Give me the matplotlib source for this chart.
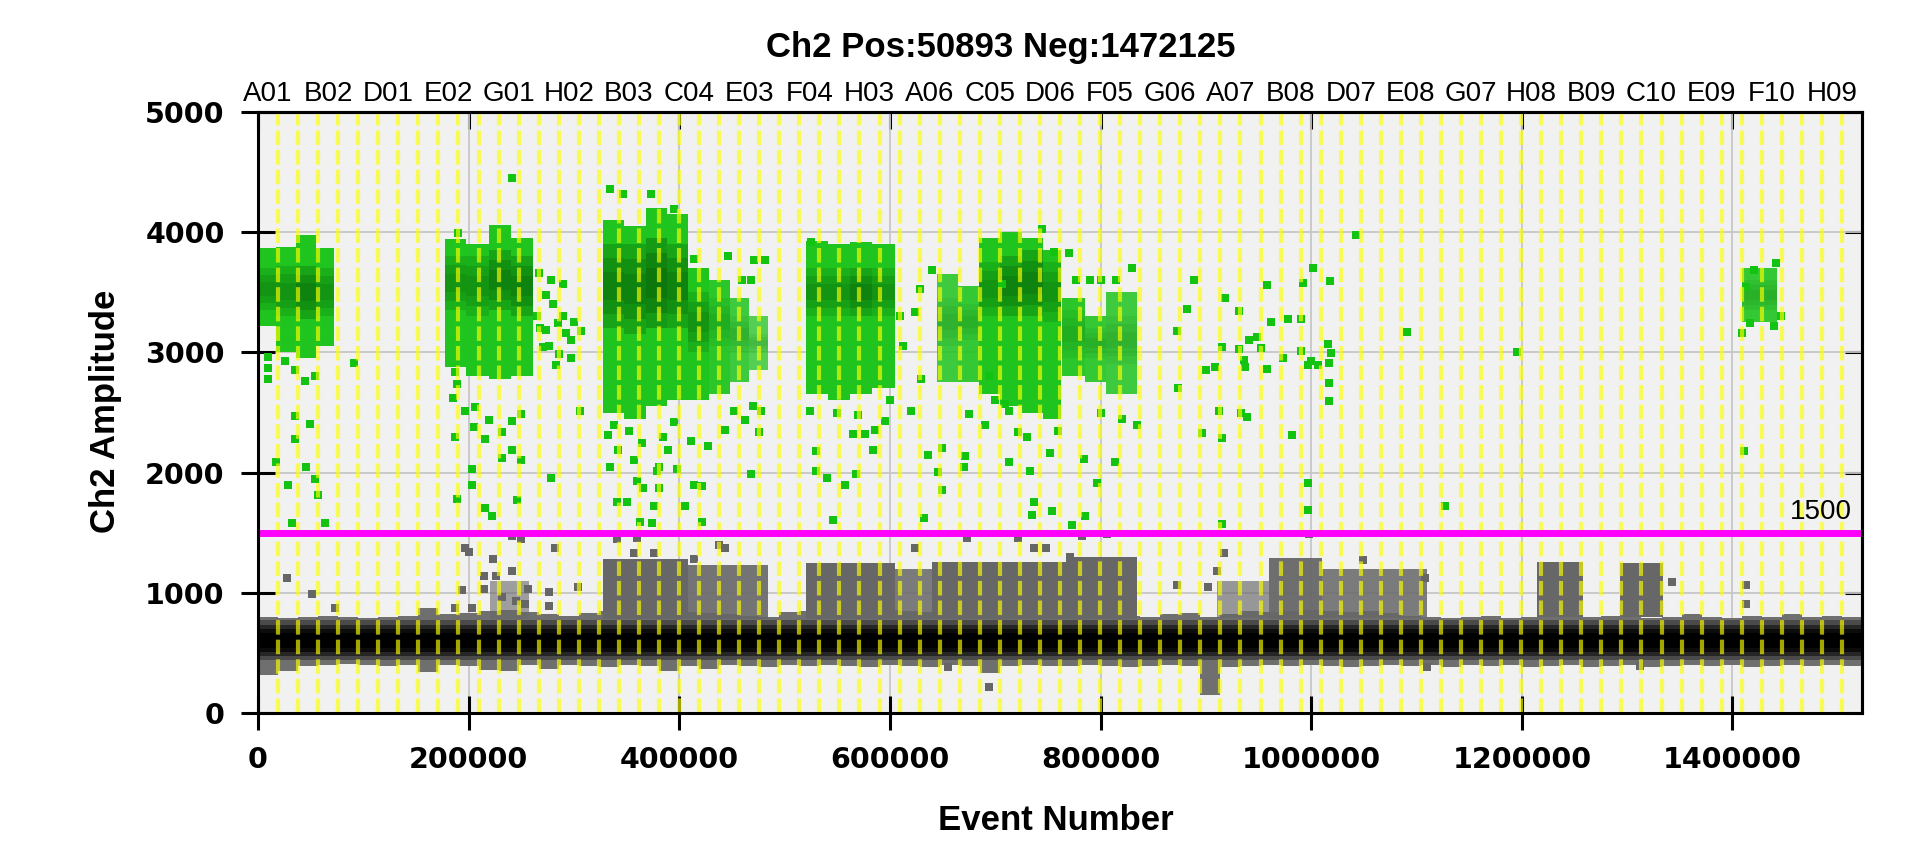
import numpy as np
import matplotlib
matplotlib.use('Agg')
import matplotlib.pyplot as plt
from matplotlib.transforms import blended_transform_factory

# ---- data ----
title = 'Ch2 Pos:50893 Neg:1472125'
total_events = 1523018
n_wells = 80
threshold = 1500

# labels printed on top, every third well (index 0, 3, ... 78)
well_labels = ['A01', 'B02', 'D01', 'E02', 'G01', 'H02', 'B03', 'C04', 'E03',
               'F04', 'H03', 'A06', 'C05', 'D06', 'F05', 'G06', 'A07', 'B08',
               'D07', 'E08', 'G07', 'H08', 'B09', 'C10', 'E09', 'F10', 'H09']

# negative droplet band, per well: outer edge of the grey fringe
neg_top = [800, 790, 800, 810, 800, 790, 800, 805, 870, 820,
           830, 850, 860, 840, 820, 810, 830, 850, 860, 850,
           850, 840, 830, 820, 810, 800, 840, 850, 860, 850,
           850, 860, 850, 840, 850, 860, 850, 840, 850, 860,
           850, 840, 830, 810, 800, 820, 830, 800, 820, 850,
           840, 850, 860, 850, 840, 850, 830, 810, 800, 790,
           800, 810, 790, 800, 830, 800, 800, 810, 800, 790,
           800, 820, 800, 790, 810, 800, 820, 800, 810, 800]
neg_bot = [320, 350, 390, 400, 410, 400, 390, 400, 340, 400,
           390, 360, 350, 400, 370, 400, 390, 380, 400, 390,
           350, 390, 370, 400, 390, 380, 400, 390, 400, 390,
           380, 400, 390, 380, 400, 390, 330, 390, 400, 390,
           390, 400, 390, 380, 390, 400, 390, 150, 380, 390,
           400, 390, 400, 390, 380, 390, 400, 390, 400, 380,
           400, 390, 400, 380, 390, 400, 380, 390, 400, 380,
           390, 400, 390, 400, 380, 390, 400, 390, 400, 390]
neg_core = [(440, 770), (475, 735), (510, 700), (540, 665)]

# grey "rain" blocks above the negative band (event number in thousands)
gray_start_k = [220, 328, 408, 520, 605, 640, 767, 911, 960, 1010, 1214, 1293]
gray_end_k = [257, 408, 484, 605, 640, 767, 835, 960, 1010, 1110, 1258, 1334]
gray_lo = [780, 780, 780, 780, 780, 780, 780, 790, 780, 790, 800, 800]
gray_hi = [1100, 1280, 1230, 1250, 1200, 1260, 1300, 1100, 1290, 1200, 1260, 1250]
gray_density = [0.6, 1, 0.9, 1, 0.85, 1, 1, 0.65, 0.95, 0.85, 1, 1]

# positive (green) clusters
pos_start_k = [0, 17, 36, 55, 178, 198, 219, 240, 328, 348, 368, 388, 408, 428,
               448, 466, 520, 541, 562, 583, 645, 665, 685, 705, 725, 745, 763,
               785, 805, 1409]
pos_end_k = [17, 36, 55, 72, 198, 219, 240, 261, 348, 368, 388, 408, 428, 448,
             466, 484, 541, 562, 583, 605, 665, 685, 705, 725, 745, 762, 785,
             805, 835, 1442]
pos_lo = [3220, 3000, 2950, 3050, 2880, 2800, 2780, 2800, 2500, 2450, 2550, 2600,
          2600, 2650, 2750, 2850, 2650, 2600, 2650, 2700, 2750, 2750, 2650, 2550,
          2500, 2450, 2800, 2750, 2650, 3250]
pos_hi = [3870, 3880, 3980, 3870, 3940, 3900, 4060, 3950, 4100, 4050, 4200, 4150,
          3700, 3600, 3450, 3300, 3930, 3900, 3920, 3900, 3650, 3550, 3950, 4000,
          3950, 3850, 3450, 3300, 3500, 3700]
pos_core_lo = [3350, 3300, 3280, 3300, 3350, 3300, 3350, 3300, 3200, 3150, 3200,
               3200, 3000, 3050, 3000, 3000, 3300, 3300, 3300, 3300, 3050, 3100,
               3300, 3300, 3300, 3250, 2950, 2950, 2900, 3350]
pos_core_hi = [3700, 3720, 3720, 3700, 3800, 3800, 3850, 3800, 3900, 3900, 3950,
               3900, 3500, 3450, 3300, 3150, 3700, 3700, 3700, 3700, 3450, 3400,
               3750, 3800, 3850, 3750, 3350, 3200, 3300, 3600]
pos_shade = [1, 1, 2, 1, 1, 1, 2, 2, 2, 2, 3, 2, 1, 0, 0, 0, 1, 1, 2, 1,
             0, 0, 1, 2, 2, 1, 0, 0, 0, 0]
pos_density = [1, 1, 1, 1, 1, 1, 1, 1, 1, 1, 1, 1, 1, 0.95, 0.85, 0.75,
               1, 1, 1, 1, 0.85, 0.9, 1, 1, 1, 1, 0.95, 0.9, 0.85, 0.9]

# single green droplets (event in thousands, amplitude)
green_pts = [
    (35.2, 2471), (49.6, 2403), (35.2, 2280), (17, 2090), (45.4, 2046), (28.2, 1899),
    (54.4, 1943), (57, 1811), (32.6, 1583), (63.4, 1583), (91.2, 2910), (44.8, 2764),
    (54.4, 2802), (35.2, 2851), (25.6, 2930), (10, 2780), (10, 2870), (10, 2960),
    (187, 2837), (189, 2734), (185.6, 2617), (196.8, 2514), (206, 2544), (219, 2441),
    (204.8, 2383), (216, 2280), (232, 2339), (241.6, 2427), (250, 2485), (187, 2295),
    (203, 2031), (232, 2119), (241.6, 2192), (249.6, 2104), (278.4, 1958), (188.8, 1782),
    (203, 1899), (246.4, 1776), (216, 1709), (222.4, 1636), (241.6, 4448), (190, 3990),
    (267, 3657), (278, 3599), (289.6, 3569), (273.6, 3481), (284.8, 3247), (273.6, 3188),
    (292.8, 3159), (297.6, 3100), (307, 3174), (286, 2983), (297.6, 2954), (270.4, 3042),
    (305.6, 2514), (283, 2895), (265, 3300), (268, 3200), (280, 3400), (290, 3300),
    (300, 3250), (276, 3050),
    (334, 4360), (347, 4316), (373, 4316), (334, 2046), (341, 1753), (350, 1753),
    (360, 1928), (366, 1870), (376, 1723), (379, 2016), (357, 2104), (332.8, 2309),
    (342, 2192), (363, 1592), (374, 1577), (338, 2400), (352, 2350), (365, 2250),
    (385, 2300), (395, 2420),
    (381, 2046), (381, 1870), (389, 2192), (398, 2031), (405, 1723), (414, 1899),
    (422, 1885), (422, 1592), (411, 2265), (427, 2221), (443, 2353), (452, 2514),
    (462, 2441), (470, 2558), (476, 2339), (468, 1987), (478, 2514), (395, 4190),
    (414, 3774), (446, 3803), (471, 3768), (481, 3768), (460, 3599), (468, 3599),
    (524, 2514), (530, 2178), (530, 2016), (540, 1958), (557, 1899), (568, 1987),
    (546, 1606), (565, 2324), (576, 2324), (584, 2192), (595, 2427), (586, 2353),
    (525, 3921), (550, 2500), (570, 2480), (600, 2600), (610, 3300), (612, 3050),
    (624, 3335), (629, 3525), (620, 2514), (630, 2778), (636.5, 2148), (646, 2002),
    (649, 1855), (632, 1621), (640, 3686), (649, 2207), (671, 2134), (670, 2046),
    (675, 2485), (694, 2807), (713, 2090), (733, 2016), (736.5, 1753), (735, 1650),
    (754, 1680), (752, 2163), (722, 2339), (744.5, 4023), (755.6, 3833), (706, 3569),
    (700, 2602), (713, 2514), (709.6, 2573), (690, 2400), (730, 2300), (760, 2350),
    (784, 2110), (814, 2086), (797, 1917), (785, 1635), (773, 1560), (770, 3830),
    (777, 3600), (790, 3600), (800, 3600), (815, 3600), (830, 3700), (800, 2500),
    (820, 2450), (835, 2400),
    (873, 3178), (882.5, 3362), (889, 3600), (900, 2850), (873.7, 2700), (896, 2330),
    (909, 2880), (912, 2510), (915, 2290), (915, 1576), (918, 3450), (915, 3045),
    (931, 3347), (931, 3030), (936, 2940), (937.5, 2880), (933, 2496), (939, 2466),
    (941, 3104), (949, 3128), (952, 3040), (958, 3560), (962, 3255), (958, 2866),
    (973, 2955), (978, 3282), (990.5, 3282), (982, 2317), (992, 3579), (1001.6, 3703),
    (990.5, 3015), (1000, 2926), (997, 2896), (1006, 2896), (1017.5, 3590), (1016, 3070),
    (1019, 2996), (1016.5, 2914), (1016.5, 2745), (1016.5, 2598), (997, 1914),
    (997, 1691), (1043, 3979), (1090.5, 3172), (1127, 1720),
    (1195, 3000), (1411, 2177), (1420.5, 3686), (1441, 3745), (1446, 3306),
    (1439, 3218), (1409.5, 3159), (1417, 3247), (1412.6, 3540)]

# single grey droplets (event in thousands, amplitude)
gray_pts = [
    (27.2, 1123), (51.2, 991), (73.6, 874), (196.8, 1372), (200, 1343), (223, 1284),
    (249.6, 1445), (241.6, 1474), (225.6, 1137), (241.6, 1181), (214.4, 1035),
    (214.4, 1137), (281.6, 1372), (276.8, 1006), (276.8, 888), (304, 1050),
    (340.8, 1445), (360, 1460), (376, 1328), (357, 1328), (193.6, 1020), (187.2, 874),
    (203, 874), (232, 962), (256, 1035), (254, 903), (245, 932),
    (414, 1284), (438, 1401), (443, 1372), (624, 1372), (673, 1460), (722, 1460),
    (736.5, 1372), (748, 1372), (694, 215), (655.6, 381),
    (782.5, 1474), (806, 1489), (771, 1298), (785.7, 1108), (798, 1167), (873, 1064),
    (917.5, 1328), (911, 1181), (901.6, 1050), (1109.6, 381), (1049, 1269),
    (1108, 1123), (998, 1489),
    (1343, 1093), (1412.6, 1064), (1412.6, 903), (1312, 390), (1302, 835)]

x_ticks = [0, 200000, 400000, 600000, 800000, 1000000, 1200000, 1400000]
y_ticks = [0, 1000, 2000, 3000, 4000, 5000]

# ---- figure ----
fig = plt.figure(figsize=(19.25, 8.44), dpi=100)
ax = fig.add_axes([0.134, 0.1552, 0.8333, 0.7121])
ax.set_facecolor('#f1f1f1')
ax.set_xlim(0, total_events)
ax.set_ylim(0, 5000)

well_w = total_events / n_wells
centers = (np.arange(n_wells) + 0.5) * well_w
k = 1000.0

ax.grid(True, color='#c6c6c6', lw=1.3, zorder=0.5)
ax.set_axisbelow(True)

# grey fringe of the negative band
nt = np.array(neg_top)
nb = np.array(neg_bot)
ax.bar(centers, nt - nb, bottom=nb, width=well_w, color='#6f6f6f', lw=0, zorder=1)

# grey rain blocks
for s, e, lo, hi, d in zip(gray_start_k, gray_end_k, gray_lo, gray_hi, gray_density):
    ax.bar(s * k, hi - lo, bottom=lo, width=(e - s) * k, align='edge',
           color='#676767', alpha=d, lw=0, zorder=1.2)

# dark core of the negative band
for (lo, hi), col in zip(neg_core, ['#4a4a4a', '#262626', '#0c0c0c', '#000000']):
    ax.bar(centers, hi - lo, bottom=lo, width=well_w, color=col, lw=0, zorder=1.4)

ax.scatter(np.array([p[0] for p in gray_pts]) * k, [p[1] for p in gray_pts],
           marker='s', s=28, c='#666666', linewidths=0, zorder=1.6)

# green clusters
for i in range(len(pos_start_k)):
    x0 = pos_start_k[i] * k
    w = (pos_end_k[i] - pos_start_k[i]) * k
    d = pos_density[i]
    ax.bar(x0, pos_hi[i] - pos_lo[i], bottom=pos_lo[i], width=w, align='edge',
           color='#1fc41f', alpha=d, lw=0, zorder=2)
    a = 0.1 + 0.12 * pos_shade[i]
    clo, chi = pos_core_lo[i], pos_core_hi[i]
    q = (chi - clo) / 6
    for step in range(3):
        ax.bar(x0, chi - clo - 2 * step * q, bottom=clo + step * q, width=w,
               align='edge', color='#0a6a0a', alpha=a * d, lw=0, zorder=2.1)

ax.scatter(np.array([p[0] for p in green_pts]) * k, [p[1] for p in green_pts],
           marker='s', s=28, c='#12c312', linewidths=0, zorder=2.5)

# well boundaries
edges = np.arange(1, n_wells) * well_w
ax.vlines(edges, 0, 5000, colors='#ffff00', linestyles=(0, (3.5, 1.2)),
          linewidth=3.0, alpha=0.65, zorder=4)

# threshold
ax.axhline(threshold, color='#ff00ff', lw=5, zorder=5)
ax.text(total_events * 0.9935, threshold + 60, str(threshold), ha='right',
        va='bottom', fontsize=20, family='Liberation Sans', zorder=6)

# well names along the top
tr = blended_transform_factory(ax.transData, ax.transAxes)
for j, lab in enumerate(well_labels):
    ax.text(centers[j * 3], 1.008, lab, transform=tr, ha='center', va='bottom',
            fontsize=20, family='Liberation Sans')

# axes, ticks, labels
for sp in ax.spines.values():
    sp.set_color('black')
    sp.set_linewidth(2.2)
    sp.set_zorder(7)

ax.set_xticks(x_ticks)
ax.set_xticklabels([str(v) for v in x_ticks])
ax.set_yticks(y_ticks)
ax.set_yticklabels([str(v) for v in y_ticks])
ax.tick_params(direction='inout', length=24, width=2.2, pad=12, top=False,
               right=False, labelsize=20.5)
for lab in ax.get_xticklabels() + ax.get_yticklabels():
    lab.set_fontweight('bold')

top = ax.secondary_xaxis('top')
top.set_xticks(x_ticks, labels=[''] * len(x_ticks))
top.tick_params(direction='in', length=12, width=2.2)
top.spines['top'].set_linewidth(2.2)
right = ax.secondary_yaxis('right')
right.set_yticks(y_ticks, labels=[''] * len(y_ticks))
right.tick_params(direction='in', length=12, width=2.2)
right.spines['right'].set_linewidth(2.2)

ax.set_xlabel('Event Number', fontsize=25, fontweight='bold', family='Liberation Sans')
ax.set_ylabel('Ch2 Amplitude', fontsize=25, fontweight='bold', family='Liberation Sans')
ax.xaxis.set_label_coords(0.4975, -0.152)
ax.yaxis.set_label_coords(-0.085, 0.5025)

fig.text(0.52, 1 - 47 / 844, title, ha='center', va='center', fontsize=25,
         fontweight='bold', family='Liberation Sans')

fig.savefig('out.png', dpi=100, facecolor='white')
